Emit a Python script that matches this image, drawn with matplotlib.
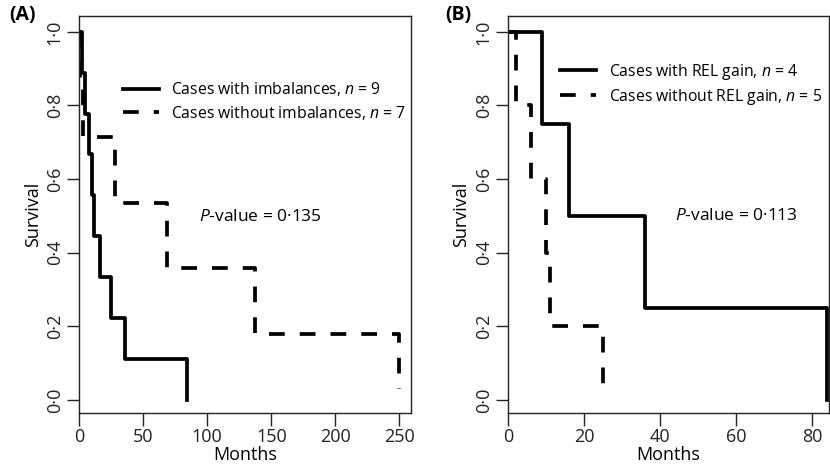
import numpy as np
import matplotlib
matplotlib.use("Agg")
import matplotlib.pyplot as plt
from matplotlib.ticker import FuncFormatter

plt.rcParams['font.family'] = ['Open Sans', 'DejaVu Sans']
plt.rcParams['mathtext.fontset'] = 'custom'
plt.rcParams['mathtext.rm'] = 'Open Sans'
plt.rcParams['mathtext.it'] = 'Open Sans:italic'

# Panel A: imbalances
a_with_t = [0, 2, 5, 8, 10, 12, 16, 25, 36, 84]
a_with_s = [1.0, 0.889, 0.778, 0.667, 0.556, 0.444, 0.333, 0.222, 0.111, 0.0]
a_without_t = [0, 1, 3, 28, 69, 137, 250]
a_without_s = [1.0, 0.857, 0.714, 0.536, 0.357, 0.179, 0.03]

# Panel B: REL gain
b_with_t = [0, 9, 16, 36, 84]
b_with_s = [1.0, 0.75, 0.5, 0.25, 0.0]
b_without_t = [0, 2, 6, 10, 11, 25]
b_without_s = [1.0, 0.8, 0.6, 0.4, 0.2, 0.03]

a_labels = ["Cases with imbalances, $n$ = 9", "Cases without imbalances, $n$ = 7"]
b_labels = ["Cases with REL gain, $n$ = 4", "Cases without REL gain, $n$ = 5"]
a_pval = "$P$-value = 0·135"
b_pval = "$P$-value = 0·113"

yticks = [0.0, 0.2, 0.4, 0.6, 0.8, 1.0]


def dot_fmt(v, pos):
    return f"{v:.1f}".replace(".", "·")


def panel(ax, t1, s1, t2, s2, labels, pval, xmax, xticks, leg_xy, p_xy, tag, tag_x):
    ax.step(t1, s1, where='post', color='black', lw=2.7, label=labels[0])
    ax.step(t2, s2, where='post', color='black', lw=2.7, dashes=(4.2, 4.0), label=labels[1])
    ax.set_xlim(0, xmax)
    ax.set_ylim(-0.036, 1.043)
    ax.set_xticks(xticks)
    ax.set_yticks(yticks)
    ax.yaxis.set_major_formatter(FuncFormatter(dot_fmt))
    for lab in ax.get_yticklabels():
        lab.set_rotation(90)
        lab.set_va('center')
    ax.tick_params(direction='out', length=9, width=1, labelsize=13, pad=2, colors='#222222')
    for sp in ax.spines.values():
        sp.set_linewidth(1)
        sp.set_color('#222222')
    ax.set_xlabel("Months", fontsize=13, labelpad=0)
    ax.set_ylabel("Survival", fontsize=13, labelpad=3)
    ax.legend(loc='upper left', bbox_to_anchor=leg_xy, frameon=False, fontsize=11.3,
              handlelength=2.3, handletextpad=0.8, borderpad=0, borderaxespad=0,
              labelspacing=0.33)
    ax.text(p_xy[0], p_xy[1], pval, transform=ax.transAxes, fontsize=12.5,
            va='center', ha='left')
    ax.text(tag_x, 0.99, tag, transform=ax.figure.transFigure, fontsize=14,
            fontweight='bold', va='top', ha='left')


fig = plt.figure(figsize=(8.3, 4.71), dpi=100)
ax1 = fig.add_axes([0.0952, 0.123, 0.4, 0.843])
ax2 = fig.add_axes([0.612, 0.123, 0.387, 0.843])

panel(ax1, a_with_t, a_with_s, a_without_t, a_without_s, a_labels, a_pval,
      259, [0, 50, 100, 150, 200, 250], (0.132, 0.838), (0.36, 0.495), "(A)", 0.011)
panel(ax2, b_with_t, b_with_s, b_without_t, b_without_s, b_labels, b_pval,
      84.5, [0, 20, 40, 60, 80], (0.163, 0.885), (0.52, 0.497), "(B)", 0.536)

fig.savefig("out.png", dpi=100)
